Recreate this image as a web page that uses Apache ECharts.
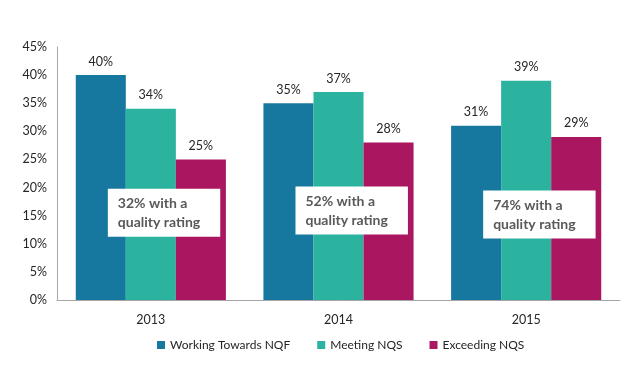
<!DOCTYPE html>
<html>
<head>
<meta charset="utf-8">
<script src="https://cdn.jsdelivr.net/npm/echarts@6/dist/echarts.min.js"></script>
<style>html,body{margin:0;padding:0;background:#fff;}#c{width:639px;height:373px;}</style>
</head>
<body>
<div id="c"></div>
<script>
var categories = ['2013', '2014', '2015'];
var working = [40, 35, 31];
var meeting = [34, 37, 39];
var exceeding = [25, 28, 29];
var qualityRated = [32, 52, 74];
var noteY = [15.5, 15.9, 15.2];
var yTicks = [0, 5, 10, 15, 20, 25, 30, 35, 40, 45];

var FONT = 'Lato, "Open Sans", sans-serif';
var chart = echarts.init(document.getElementById('c'));

var barLabel = {
  show: true, position: 'top', distance: 7,
  formatter: function (p) { return p.value + '%'; },
  color: '#262626', fontSize: 12.5, fontFamily: FONT
};

chart.setOption({
  animation: false,
  backgroundColor: '#fff',
  textStyle: { fontFamily: FONT },
  grid: { left: 57, right: 19, top: 47, bottom: 73, containLabel: false },
  legend: {
    data: ['Working Towards NQF', 'Meeting NQS', 'Exceeding NQS'],
    left: 157, top: 339, padding: 0,
    itemWidth: 8, itemHeight: 8, itemGap: 27, icon: 'rect',
    textStyle: { color: '#262626', fontSize: 12, fontFamily: FONT }
  },
  xAxis: {
    type: 'category', data: categories,
    axisLine: { lineStyle: { color: '#a6a6a6' } },
    axisTick: { show: false },
    axisLabel: { color: '#262626', fontSize: 12.5, margin: 13, fontFamily: FONT }
  },
  yAxis: {
    type: 'value', min: 0, max: 45, interval: 5,
    axisLine: { show: true, lineStyle: { color: '#a6a6a6' } },
    axisTick: { show: false },
    splitLine: { show: false },
    axisLabel: {
      color: '#262626', fontSize: 12.5, margin: 10, fontFamily: FONT,
      customValues: yTicks,
      formatter: function (v) { return v + '%'; }
    }
  },
  series: [
    { name: 'Working Towards NQF', type: 'bar', data: working, barGap: '0%', barCategoryGap: '20%',
      itemStyle: { color: '#16789e' }, label: barLabel },
    { name: 'Meeting NQS', type: 'bar', data: meeting,
      itemStyle: { color: '#2bb3a0' }, label: barLabel },
    { name: 'Exceeding NQS', type: 'bar', data: exceeding,
      itemStyle: { color: '#ab1660' }, label: barLabel },
    { name: 'note', type: 'scatter', symbolSize: 1, silent: true, z: 10,
      itemStyle: { opacity: 0 },
      emphasis: { disabled: true },
      data: qualityRated.map(function (q, i) { return [i, noteY[i], q]; }),
      label: {
        show: true, position: 'inside', offset: [-43, 0],
        opacity: 1,
        formatter: function (p) { return p.value[2] + '% with a\nquality rating'; },
        backgroundColor: '#ffffff', padding: [5, 20, 5, 10],
        color: '#595959', fontSize: 14, fontWeight: 'bold', lineHeight: 19,
        align: 'left', verticalAlign: 'middle', fontFamily: FONT
      }
    }
  ]
});
</script>
</body>
</html>
